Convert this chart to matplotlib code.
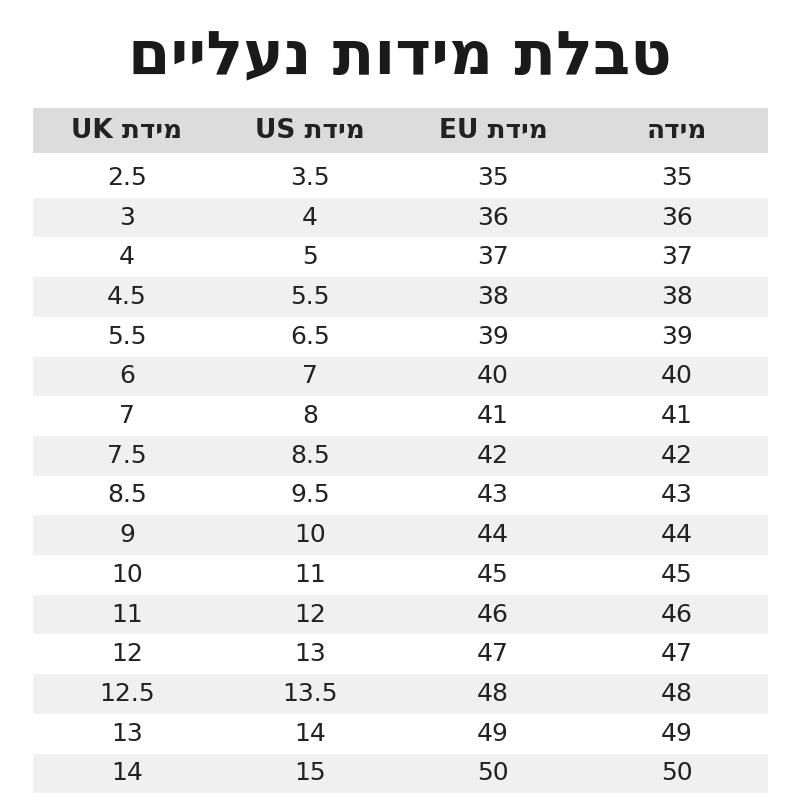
import matplotlib
matplotlib.use("Agg")
import matplotlib.pyplot as plt
from matplotlib.patches import Rectangle

title = "טבלת מידות נעליים"
headers = ["מידת UK", "מידת US", "מידת EU", "מידה"]
uk = ["2.5", "3", "4", "4.5", "5.5", "6", "7", "7.5", "8.5", "9", "10", "11", "12", "12.5", "13", "14"]
us = ["3.5", "4", "5", "5.5", "6.5", "7", "8", "8.5", "9.5", "10", "11", "12", "13", "13.5", "14", "15"]
eu = ["35", "36", "37", "38", "39", "40", "41", "42", "43", "44", "45", "46", "47", "48", "49", "50"]
size = ["35", "36", "37", "38", "39", "40", "41", "42", "43", "44", "45", "46", "47", "48", "49", "50"]

def visual(s):
    def is_heb(w):
        return any('\u0590' <= c <= '\u05ff' for c in w)
    words = s.split(" ")
    out = [w[::-1] if is_heb(w) else w for w in words]
    return " ".join(out[::-1])

fig = plt.figure(figsize=(8, 8), dpi=100)
ax = fig.add_axes([0, 0, 1, 1])
ax.set_xlim(0, 800)
ax.set_ylim(800, 0)
ax.axis("off")

ax.text(400, 58, visual(title), ha="center", va="center", fontsize=44,
        fontweight="bold", color="#1a1a1a", family="DejaVu Sans")

x0, x1 = 33, 768
ax.add_patch(Rectangle((x0, 108), x1 - x0, 45, color="#dcdcdc", lw=0))
cols = [127, 310, 493, 677]
for h, cx in zip(headers, cols):
    ax.text(cx, 131, visual(h), ha="center", va="center", fontsize=19,
            fontweight="bold", color="#222222")

top, rh = 158, 39.7
for i in range(len(uk)):
    yc = top + rh * i + rh / 2
    if i % 2 == 1:
        ax.add_patch(Rectangle((x0, top + rh * i), x1 - x0, rh, color="#f0f0f0", lw=0))
    for vals, cx in zip([uk, us, eu, size], cols):
        ax.text(cx, yc, vals[i], ha="center", va="center", fontsize=18, color="#222222")

fig.savefig("out.png", dpi=100, facecolor="white")
